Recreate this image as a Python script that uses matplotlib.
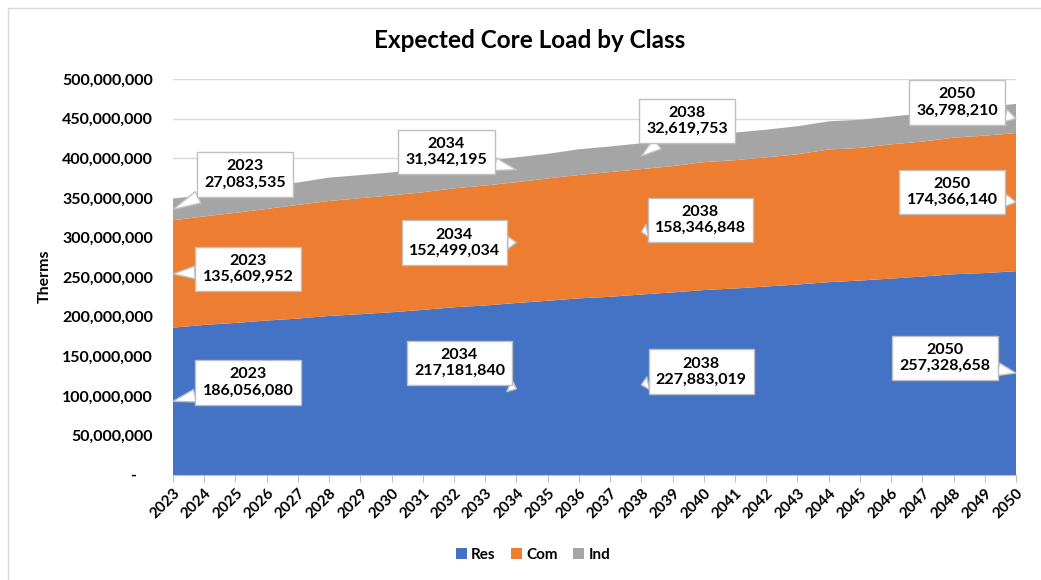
import matplotlib
matplotlib.use('Agg')
import matplotlib.pyplot as plt
from matplotlib.ticker import FuncFormatter, MultipleLocator
from matplotlib.lines import Line2D

plt.rcParams['font.family'] = ['Lato', 'DejaVu Sans']

# ---------------- data ----------------
years = [2023, 2024, 2025, 2026, 2027, 2028, 2029, 2030, 2031, 2032,
         2033, 2034, 2035, 2036, 2037, 2038, 2039, 2040, 2041, 2042,
         2043, 2044, 2045, 2046, 2047, 2048, 2049, 2050]

res = [186056080, 189500000, 192000000, 195000000, 197500000, 200800000,
       203000000, 205500000, 208500000, 211800000, 214000000, 217181840,
       220000000, 223000000, 225000000, 227883019, 230500000, 233500000,
       235500000, 238000000, 240500000, 243500000, 245500000, 248000000,
       250500000, 253500000, 255000000, 257328658]

com = [135609952, 137000000, 139000000, 141000000, 143500000, 145200000,
       146500000, 147500000, 148500000, 150200000, 151500000, 152499034,
       154500000, 155800000, 157500000, 158346848, 159500000, 161500000,
       162000000, 163000000, 164500000, 167500000, 167500000, 169500000,
       170500000, 172500000, 173500000, 174366140]

ind = [27083535, 27400000, 27700000, 28000000, 28300000, 29500000,
       29200000, 29000000, 29500000, 30300000, 30800000, 31342195,
       31000000, 32500000, 32300000, 32619753, 33500000, 34500000,
       34800000, 35000000, 35300000, 35500000, 35500000, 35000000,
       35500000, 35800000, 36300000, 36798210]

series_names = ['Res', 'Com', 'Ind']
label_years = [2023, 2034, 2038, 2050]

# ---------------- styles ----------------
colors = ['#4472C4', '#ED7D31', '#A5A5A5']
W, H = 1041, 580
# callout offsets in pixels (dx right, dy up) from the data point
offsets = {
    ('Res', 2023): (75, 19), ('Com', 2023): (75, 5), ('Ind', 2023): (72, 35),
    ('Res', 2034): (-57, 26), ('Com', 2034): (-62, 0), ('Ind', 2034): (-70, 18),
    ('Res', 2038): (60, 13), ('Com', 2038): (59, 12), ('Ind', 2038): (46, 35),
    ('Res', 2050): (-71, 15), ('Com', 2050): (-64, 10), ('Ind', 2050): (-59, 16),
}

fig = plt.figure(figsize=(W / 100, H / 100), dpi=100)
ax = fig.add_axes([173 / W, 105 / H, (1016 - 173) / W, 396 / H])

ax.stackplot(years, res, com, ind, colors=colors, labels=series_names,
             linewidth=0, zorder=2)

ax.set_xlim(years[0], years[-1])
ax.set_ylim(0, 500000000)
ax.yaxis.set_major_locator(MultipleLocator(50000000))
ax.yaxis.set_major_formatter(FuncFormatter(
    lambda v, p: '-    ' if v == 0 else f'{int(v):,}'))
ax.set_xticks(years)
ax.set_xticklabels([str(y) for y in years], rotation=45, ha='right',
                   rotation_mode='anchor', fontsize=11, fontweight='bold')
for lab in ax.get_yticklabels():
    lab.set_fontweight('bold')
    lab.set_fontsize(11.5)

ax.yaxis.grid(True, color='#d9d9d9', lw=1)
ax.set_axisbelow(True)
for s in ['left', 'top', 'right']:
    ax.spines[s].set_visible(False)
ax.spines['bottom'].set_color('#bfbfbf')
ax.tick_params(axis='y', length=0, pad=14.5, colors='#000000')
ax.tick_params(axis='x', length=5, color='#bfbfbf', pad=3, labelcolor='#000000')

# callouts
series_vals = [res, com, ind]
bottoms = [0] * len(years)
for name, vals in zip(series_names, series_vals):
    for y in label_years:
        i = years.index(y)
        mid = bottoms[i] + vals[i] / 2
        ax.annotate(f'{y}\n{vals[i]:,}', xy=(y, mid),
                    xytext=offsets[(name, y)], textcoords='offset pixels',
                    ha='center', va='center', fontsize=11.5, fontweight='bold',
                    linespacing=1.2,
                    bbox=dict(boxstyle='square,pad=0.45', fc='white',
                              ec='#bfbfbf', lw=1),
                    arrowprops=dict(arrowstyle='wedge,tail_width=0.8',
                                    fc='white', ec='#bfbfbf', lw=1,
                                    shrinkA=0, shrinkB=0),
                    annotation_clip=False, zorder=5)
    bottoms = [b + v for b, v in zip(bottoms, vals)]

fig.text(0.509, 1 - 40 / H, 'Expected Core Load by Class', ha='center',
         va='center', fontsize=17.5, fontweight='bold')
fig.text(45 / W, 1 - 276 / H, 'Therms', rotation=90, ha='center',
         va='center', fontsize=11.5, fontweight='bold')

handles, labels = ax.get_legend_handles_labels()
fig.legend(handles, labels, loc='center', bbox_to_anchor=(533 / W, 1 - 555 / H),
           ncol=3, frameon=False, handlelength=0.7, handleheight=0.7,
           handletextpad=0.3, columnspacing=1.0,
           prop={'weight': 'bold', 'size': 11})

# chart border (left & top visible)
fig.add_artist(Line2D([7.5 / W, 7.5 / W], [0, 1 - 7.5 / H],
                      transform=fig.transFigure, color='#d9d9d9', lw=1))
fig.add_artist(Line2D([7.5 / W, 1], [1 - 7.5 / H, 1 - 7.5 / H],
                      transform=fig.transFigure, color='#d9d9d9', lw=1))

fig.savefig('out.png', dpi=100)
